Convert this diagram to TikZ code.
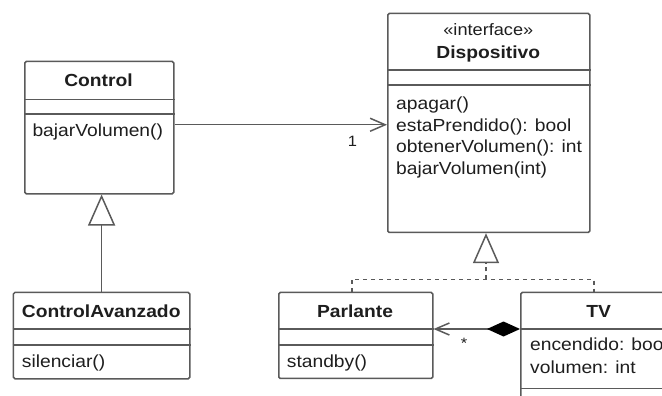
\documentclass[tikz,border=0pt]{standalone}
\usepackage{fontspec}
\setmainfont{Liberation Sans}[FakeStretch=1.1]
\usetikzlibrary{arrows.meta}
\definecolor{linec}{HTML}{5A5A5A}
\definecolor{textc}{HTML}{1E1E1E}
\begin{document}
\begin{tikzpicture}[x=1pt,y=-1pt,
  umlbox/.style={draw=linec, line width=1.5pt, rounded corners=1.5pt, fill=white, inner sep=0pt, anchor=north west},
  sepline/.style={draw=linec, line width=1.5pt},
  txt/.style={inner sep=0pt, text=textc, font=\fontsize{17.5}{21}\selectfont, anchor=base west},
  ttl/.style={inner sep=0pt, text=textc, font=\bfseries\fontsize{17.5}{21}\selectfont, anchor=base},
  lbl/.style={inner sep=0pt, text=textc, font=\fontsize{15}{18}\selectfont},
  conn/.style={draw=linec, line width=1.5pt},
  assoc/.style={conn, -{Straight Barb[length=15pt,width=13pt]}},
  gen/.style={conn, -{Triangle[open,fill=white,length=31pt,width=27pt]}},
  real/.style={conn, dash pattern=on 4pt off 4pt},
  comp/.style={conn, {Diamond[color=black,fill=black,length=33pt,width=15pt]}-{Straight Barb[length=14pt,width=12pt]}}
]
\useasboundingbox (0,0) rectangle (662,396);
\clip (0,0) rectangle (662,396);
\fill[white] (0,0) rectangle (662,396);

% Control
\node[umlbox, minimum width=149pt, minimum height=132.3pt] (control) at (24,60.7) {};
\draw[sepline] (control.west |- 0,99.3) -- (control.east |- 0,99.3);
\draw[sepline] (control.west |- 0,114) -- (control.east |- 0,114);
\node[ttl] (tcontrol) at (98.5,86.5) {Control};
\node[txt] (mcontrol) at (32.3,136) {bajarVolumen()};

% Dispositivo
\node[umlbox, minimum width=202pt, minimum height=219pt] (disp) at (387,12.7) {};
\draw[sepline] (disp.west |- 0,70) -- (disp.east |- 0,70);
\draw[sepline] (disp.west |- 0,85) -- (disp.east |- 0,85);
\node[inner sep=0pt, text=textc, font=\fontsize{16.5}{20}\selectfont, anchor=base] (ster) at (488.3,35.7) {«interface»};
\node[ttl] (tdisp) at (488.3,58.3) {Dispositivo};
\node[txt] (m1) at (396,109.5) {apagar()};
\node[txt] (m2) at (396,131.3) {estaPrendido(): bool};
\node[txt] (m3) at (396,153) {obtenerVolumen(): int};
\node[txt] (m4) at (396,175) {bajarVolumen(int)};

% ControlAvanzado
\node[umlbox, minimum width=176.3pt, minimum height=86.3pt] (cav) at (12.7,291.7) {};
\draw[sepline] (cav.west |- 0,329) -- (cav.east |- 0,329);
\draw[sepline] (cav.west |- 0,345) -- (cav.east |- 0,345);
\node[ttl] (tcav) at (101.2,317.3) {ControlAvanzado};
\node[txt] (mcav) at (21.7,367.7) {silenciar()};

% Parlante
\node[umlbox, minimum width=154pt, minimum height=86pt] (parl) at (278,291.7) {};
\draw[sepline] (parl.west |- 0,329) -- (parl.east |- 0,329);
\draw[sepline] (parl.west |- 0,345) -- (parl.east |- 0,345);
\node[ttl] (tparl) at (355,317.3) {Parlante};
\node[txt] (mparl) at (286.7,367.7) {standby()};

% TV
\node[umlbox, minimum width=158pt, minimum height=130pt] (tv) at (520,291.7) {};
\draw[sepline] (tv.west |- 0,329) -- (tv.east |- 0,329);
\draw[sepline] (tv.west |- 0,388.3) -- (tv.east |- 0,388.3);
\node[ttl] (ttv) at (598.7,317.3) {TV};
\node[txt] (a1) at (530,350.7) {encendido: bool};
\node[txt] (a2) at (530,373.3) {volumen: int};

% Association Control -> Dispositivo
\draw[assoc] ([yshift=2.85pt]control.east) coordinate (ae) -- (ae -| disp.west);
\node[lbl] (one) at (352.5,141.5) {1};

% Generalization ControlAvanzado -> Control
\draw[gen] (cav.north) -- (cav.north |- control.south);

% Realization Parlante, TV -> Dispositivo
\coordinate (rj) at (486,279.3);
\draw[real] ([xshift=-4pt]parl.north) |- (rj) -| ([xshift=-5.7pt]tv.north);
\draw[real, -{Triangle[open,fill=white,length=30pt,width=26pt]}] (rj) -- (rj |- disp.south);

% Composition TV -> Parlante
\draw[comp] ([yshift=-37.3pt]tv.north west) -- ([yshift=-37.3pt]parl.north east);
\node[lbl] (star) at (464,343.5) {*};
\end{tikzpicture}
\end{document}
